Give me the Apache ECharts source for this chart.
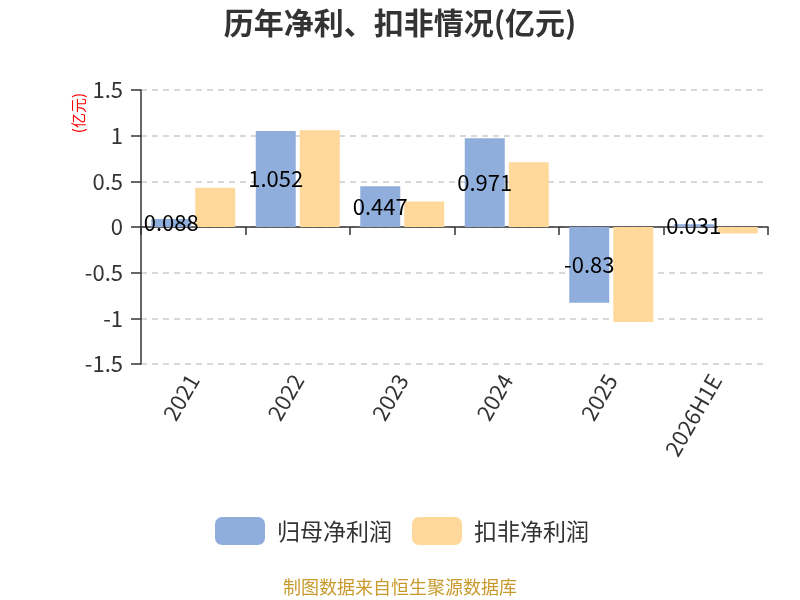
<!DOCTYPE html>
<html>
<head>
<meta charset="utf-8">
<script src="https://cdn.jsdelivr.net/npm/echarts@6/dist/echarts.min.js"></script>
<style>
  html, body { margin: 0; padding: 0; background: #fff; }
  #container { width: 800px; height: 600px; }
</style>
</head>
<body>
<div id="container"></div>
<script>
var dom = document.getElementById("container");
var chart = echarts.init(dom);

// data
const years = ["2021", "2022", "2023", "2024", "2025", "2026H1E"];
const netProfit = [0.088, 1.052, 0.447, 0.971, -0.83, 0.031];
const deductedProfit = [0.43, 1.06, 0.28, 0.71, -1.04, -0.07];
const seriesNames = ["归母净利润", "扣非净利润"];

const font = "'Noto Sans CJK SC', 'Noto Sans', sans-serif";

var option = {
    textStyle: { fontFamily: font },
    title: {
        text: "历年净利、扣非情况(亿元)",
        left: "center",
        top: 3,
        textStyle: { fontSize: 30, fontWeight: "bold", color: "#333", fontFamily: font },
    },
    legend: {
        data: seriesNames,
        left: 210,
        bottom: 50,
        itemWidth: 50,
        itemHeight: 28,
        itemGap: 20,
        textStyle: { fontSize: 23, color: "#333", fontFamily: font, padding: [0, 0, 0, 7] },
    },
    grid: {
        top: 90,
        bottom: 236,
        left: 141,
        right: 32,
    },
    xAxis: {
        type: "category",
        data: years,
        axisLine: { lineStyle: { color: "#333", width: 1.5 } },
        axisTick: { show: true, length: 8, lineStyle: { color: "#333", width: 1.5 } },
        axisLabel: {
            rotate: 60,
            fontSize: 22,
            color: "#333",
            interval: 0,
            margin: 12,
        },
    },
    yAxis: {
        type: "value",
        min: -1.5,
        max: 1.5,
        interval: 0.5,
        axisLine: { show: true, lineStyle: { color: "#333", width: 1.5 } },
        axisTick: { show: true, length: 10, lineStyle: { color: "#333", width: 1.5 } },
        axisLabel: { fontSize: 22, color: "#333", margin: 18 },
        splitLine: { lineStyle: { type: [6, 5], color: "#ccc", width: 1.5 } },
    },
    series: [
        {
            name: seriesNames[0],
            type: "bar",
            data: netProfit,
            barWidth: 40,
            barGap: "10%",
            itemStyle: { color: "#8faedb" },
            label: {
                show: true,
                position: "inside",
                color: "#000",
                fontSize: 22,
            },
        },
        {
            name: seriesNames[1],
            type: "bar",
            data: deductedProfit,
            barWidth: 40,
            barGap: "10%",
            itemStyle: { color: "#ffd99b" },
        },
    ],
    graphic: [
        {
            type: "text",
            left: 71,
            top: 93,
            rotation: Math.PI / 2,
            style: { text: "(亿元)", fill: "#ff0000", fontSize: 15, fontFamily: font },
        },
        {
            type: "text",
            left: "center",
            top: 578,
            style: { text: "制图数据来自恒生聚源数据库", fill: "#c89a2c", fontSize: 18, fontFamily: font },
        },
    ],
};

chart.setOption(option);
</script>
</body>
</html>
